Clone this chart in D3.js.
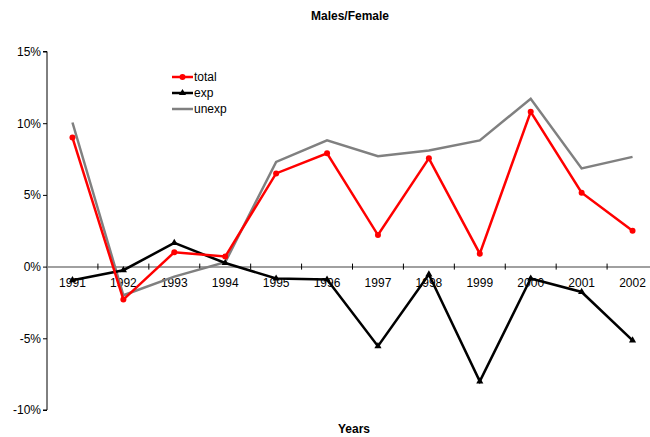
<!DOCTYPE html>
<html><head><meta charset="utf-8">
<script src="https://cdn.jsdelivr.net/npm/d3@7"></script>
<style>body{margin:0;background:#fff}svg{display:block}text{font-family:"Liberation Sans",Arial,sans-serif}</style>
</head><body><svg id="c" width="650" height="437"></svg>
<script>
const years = ["1991","1992","1993","1994","1995","1996","1997","1998","1999","2000","2001","2002"];
const total = [9.0,-2.3,1.0,0.7,6.5,7.9,2.2,7.55,0.9,10.8,5.15,2.5];
const exp = [-0.95,-0.25,1.65,0.25,-0.83,-0.9,-5.55,-0.55,-8.0,-0.83,-1.77,-5.15];
const unexp = [10.05,-2.0,-0.7,0.3,7.3,8.8,7.7,8.1,8.8,11.7,6.85,7.65];
const yTicks = [-10,-5,0,5,10,15];
const seriesNames = ["total","exp","unexp"];

const svg = d3.select("#c");
const L = 47, R = 658, T = 51.5, B = 410;
const x = d3.scaleBand().domain(years).range([L, R]).paddingInner(0).paddingOuter(0);
const y = d3.scaleLinear().domain([-10, 15]).range([B, T]);
const cx = d => x(d) + x.bandwidth()/2;

// title
svg.append("text").attr("x", 350).attr("y", 20).attr("text-anchor","middle")
  .attr("font-weight","bold").attr("font-size",12).text("Males/Female");
svg.append("text").attr("x", 354).attr("y", 433).attr("text-anchor","middle")
  .attr("font-weight","bold").attr("font-size",12).text("Years");

// y axis
const ya = svg.append("g").attr("transform",`translate(${L},0)`)
  .call(d3.axisLeft(y).tickValues(yTicks).tickSize(4).tickPadding(2).tickFormat(d => d + "%"));
ya.selectAll("text").attr("font-size",12).attr("fill","#000").style("font-family",'"Liberation Sans",Arial,sans-serif');
ya.selectAll("line").attr("stroke","#000");
ya.select(".domain").attr("stroke","#000").attr("d",`M-4,${T}H0V${B}H-4`);

// x axis (zero line)
const xa = svg.append("g").attr("transform",`translate(0,${y(0)})`)
  .call(d3.axisBottom(x).tickSize(0).tickPadding(12));
xa.select(".domain").attr("stroke","#808080").attr("stroke-width",1.5);
xa.selectAll("text").attr("font-size",12).attr("fill","#000").style("font-family",'"Liberation Sans",Arial,sans-serif');
svg.append("g").selectAll("line").data(years.slice(1)).join("line")
  .attr("x1", d => x(d)).attr("x2", d => x(d))
  .attr("y1", y(0) - 3).attr("y2", y(0) + 3).attr("stroke","#000");

const line = d3.line().x((d,i) => cx(years[i])).y(d => y(d));

// unexp (gray)
svg.append("path").datum(unexp).attr("d", line).attr("fill","none")
  .attr("stroke","#808080").attr("stroke-width",2.5);
// exp (black)
svg.append("path").datum(exp).attr("d", line).attr("fill","none")
  .attr("stroke","#000").attr("stroke-width",2.5);
svg.append("g").selectAll("path").data(exp).join("path")
  .attr("transform",(d,i)=>`translate(${cx(years[i])},${y(d)})`)
  .attr("d", d3.symbol(d3.symbolTriangle, 22)).attr("fill","#000");
// total (red)
svg.append("path").datum(total).attr("d", line).attr("fill","none")
  .attr("stroke","#ff0000").attr("stroke-width",2.5);
svg.append("g").selectAll("circle").data(total).join("circle")
  .attr("cx",(d,i)=>cx(years[i])).attr("cy", d => y(d)).attr("r",3).attr("fill","#ff0000");

// legend
const colors = ["#ff0000","#000","#808080"];
const lg = svg.append("g");
seriesNames.forEach((n,i) => {
  const yy = 77 + i*16;
  lg.append("line").attr("x1",172).attr("x2",193).attr("y1",yy).attr("y2",yy)
    .attr("stroke",colors[i]).attr("stroke-width",2.5);
  if (i===0) lg.append("circle").attr("cx",182.5).attr("cy",yy).attr("r",3).attr("fill",colors[i]);
  if (i===1) lg.append("path").attr("transform",`translate(182.5,${yy})`)
    .attr("d", d3.symbol(d3.symbolTriangle,22)).attr("fill","#000");
  lg.append("text").attr("x",194).attr("y",yy+4).attr("font-size",12).text(n);
});
</script></body></html>
